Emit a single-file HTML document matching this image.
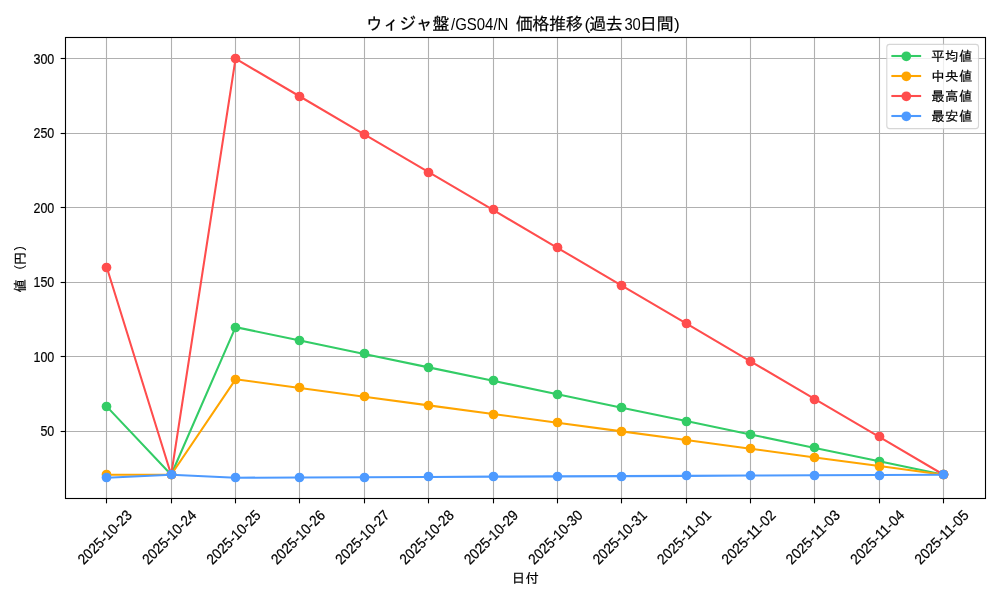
<!DOCTYPE html>
<html lang="ja">
<head>
<meta charset="utf-8">
<title>ウィジャ盤/GS04/N 価格推移(過去30日間)</title>
<style>
html,body{margin:0;padding:0;background:#fff;}
body{width:1000px;height:600px;overflow:hidden;}
svg{display:block;will-change:transform;}
svg text{font-family:"Liberation Sans","IPAGothic",sans-serif;fill:#000;stroke:#000;stroke-width:0.2px;}
.t10{font-size:13.4px;letter-spacing:0.49px;}
.t12{font-size:17.3px;letter-spacing:-0.63px;}
.lat{letter-spacing:0;stroke:none;}
.tl{font-size:14.6px;stroke:none;}
</style>
</head>
<body>
<svg width="1000" height="600" viewBox="0 0 1000 600">
<rect x="0" y="0" width="1000" height="600" fill="#ffffff"/>
<g stroke="#b0b0b0" stroke-width="1.11" fill="none">
<line x1="106.5" y1="37.5" x2="106.5" y2="498.5"/>
<line x1="171.5" y1="37.5" x2="171.5" y2="498.5"/>
<line x1="235.5" y1="37.5" x2="235.5" y2="498.5"/>
<line x1="299.5" y1="37.5" x2="299.5" y2="498.5"/>
<line x1="364.5" y1="37.5" x2="364.5" y2="498.5"/>
<line x1="428.5" y1="37.5" x2="428.5" y2="498.5"/>
<line x1="493.5" y1="37.5" x2="493.5" y2="498.5"/>
<line x1="557.5" y1="37.5" x2="557.5" y2="498.5"/>
<line x1="621.5" y1="37.5" x2="621.5" y2="498.5"/>
<line x1="686.5" y1="37.5" x2="686.5" y2="498.5"/>
<line x1="750.5" y1="37.5" x2="750.5" y2="498.5"/>
<line x1="814.5" y1="37.5" x2="814.5" y2="498.5"/>
<line x1="879.5" y1="37.5" x2="879.5" y2="498.5"/>
<line x1="943.5" y1="37.5" x2="943.5" y2="498.5"/>
<line x1="65.5" y1="431.5" x2="985.5" y2="431.5"/>
<line x1="65.5" y1="356.5" x2="985.5" y2="356.5"/>
<line x1="65.5" y1="282.5" x2="985.5" y2="282.5"/>
<line x1="65.5" y1="207.5" x2="985.5" y2="207.5"/>
<line x1="65.5" y1="133.5" x2="985.5" y2="133.5"/>
<line x1="65.5" y1="58.5" x2="985.5" y2="58.5"/>
</g>
<g stroke="#000" stroke-width="1.11" fill="none">
<line x1="106.5" y1="498.5" x2="106.5" y2="503.36"/>
<line x1="171.5" y1="498.5" x2="171.5" y2="503.36"/>
<line x1="235.5" y1="498.5" x2="235.5" y2="503.36"/>
<line x1="299.5" y1="498.5" x2="299.5" y2="503.36"/>
<line x1="364.5" y1="498.5" x2="364.5" y2="503.36"/>
<line x1="428.5" y1="498.5" x2="428.5" y2="503.36"/>
<line x1="493.5" y1="498.5" x2="493.5" y2="503.36"/>
<line x1="557.5" y1="498.5" x2="557.5" y2="503.36"/>
<line x1="621.5" y1="498.5" x2="621.5" y2="503.36"/>
<line x1="686.5" y1="498.5" x2="686.5" y2="503.36"/>
<line x1="750.5" y1="498.5" x2="750.5" y2="503.36"/>
<line x1="814.5" y1="498.5" x2="814.5" y2="503.36"/>
<line x1="879.5" y1="498.5" x2="879.5" y2="503.36"/>
<line x1="943.5" y1="498.5" x2="943.5" y2="503.36"/>
<line x1="60.64" y1="431.5" x2="65.5" y2="431.5"/>
<line x1="60.64" y1="356.5" x2="65.5" y2="356.5"/>
<line x1="60.64" y1="282.5" x2="65.5" y2="282.5"/>
<line x1="60.64" y1="207.5" x2="65.5" y2="207.5"/>
<line x1="60.64" y1="133.5" x2="65.5" y2="133.5"/>
<line x1="60.64" y1="58.5" x2="65.5" y2="58.5"/>
</g>
<clipPath id="ax"><rect x="65.5" y="37.5" width="920.0" height="461.0"/></clipPath>
<g clip-path="url(#ax)">
<polyline points="106.82,406.66 171.19,474.76 235.56,327.11 299.93,340.54 364.30,353.96 428.67,367.38 493.04,380.80 557.41,394.23 621.78,407.65 686.15,421.07 750.52,434.50 814.89,447.92 879.26,461.34 943.63,474.76" fill="none" stroke="#33cc66" stroke-width="2.08" stroke-linejoin="round" stroke-linecap="butt"/>
<g fill="#33cc66"><circle cx="106.5" cy="406.5" r="4.86"/><circle cx="171.5" cy="474.5" r="4.86"/><circle cx="235.5" cy="327.5" r="4.86"/><circle cx="299.5" cy="340.5" r="4.86"/><circle cx="364.5" cy="353.5" r="4.86"/><circle cx="428.5" cy="367.5" r="4.86"/><circle cx="493.5" cy="380.5" r="4.86"/><circle cx="557.5" cy="394.5" r="4.86"/><circle cx="621.5" cy="407.5" r="4.86"/><circle cx="686.5" cy="421.5" r="4.86"/><circle cx="750.5" cy="434.5" r="4.86"/><circle cx="814.5" cy="447.5" r="4.86"/><circle cx="879.5" cy="461.5" r="4.86"/><circle cx="943.5" cy="474.5" r="4.86"/></g>
<polyline points="106.82,474.76 171.19,474.76 235.56,379.31 299.93,387.99 364.30,396.67 428.67,405.35 493.04,414.02 557.41,422.70 621.78,431.38 686.15,440.05 750.52,448.73 814.89,457.41 879.26,466.09 943.63,474.76" fill="none" stroke="#ffa500" stroke-width="2.08" stroke-linejoin="round" stroke-linecap="butt"/>
<g fill="#ffa500"><circle cx="106.5" cy="474.5" r="4.86"/><circle cx="171.5" cy="474.5" r="4.86"/><circle cx="235.5" cy="379.5" r="4.86"/><circle cx="299.5" cy="387.5" r="4.86"/><circle cx="364.5" cy="396.5" r="4.86"/><circle cx="428.5" cy="405.5" r="4.86"/><circle cx="493.5" cy="414.5" r="4.86"/><circle cx="557.5" cy="422.5" r="4.86"/><circle cx="621.5" cy="431.5" r="4.86"/><circle cx="686.5" cy="440.5" r="4.86"/><circle cx="750.5" cy="448.5" r="4.86"/><circle cx="814.5" cy="457.5" r="4.86"/><circle cx="879.5" cy="466.5" r="4.86"/><circle cx="943.5" cy="474.5" r="4.86"/></g>
<polyline points="106.82,267.46 171.19,474.76 235.56,58.66 299.93,96.49 364.30,134.32 428.67,172.14 493.04,209.97 557.41,247.80 621.78,285.63 686.15,323.45 750.52,361.28 814.89,399.11 879.26,436.94 943.63,474.76" fill="none" stroke="#ff4d4d" stroke-width="2.08" stroke-linejoin="round" stroke-linecap="butt"/>
<g fill="#ff4d4d"><circle cx="106.5" cy="267.5" r="4.86"/><circle cx="171.5" cy="474.5" r="4.86"/><circle cx="235.5" cy="58.5" r="4.86"/><circle cx="299.5" cy="96.5" r="4.86"/><circle cx="364.5" cy="134.5" r="4.86"/><circle cx="428.5" cy="172.5" r="4.86"/><circle cx="493.5" cy="209.5" r="4.86"/><circle cx="557.5" cy="247.5" r="4.86"/><circle cx="621.5" cy="285.5" r="4.86"/><circle cx="686.5" cy="323.5" r="4.86"/><circle cx="750.5" cy="361.5" r="4.86"/><circle cx="814.5" cy="399.5" r="4.86"/><circle cx="879.5" cy="436.5" r="4.86"/><circle cx="943.5" cy="474.5" r="4.86"/></g>
<polyline points="106.82,477.75 171.19,474.76 235.56,477.75 299.93,477.47 364.30,477.20 428.67,476.93 493.04,476.66 557.41,476.39 621.78,476.12 686.15,475.85 750.52,475.58 814.89,475.31 879.26,475.03 943.63,474.76" fill="none" stroke="#4d9aff" stroke-width="2.08" stroke-linejoin="round" stroke-linecap="butt"/>
<g fill="#4d9aff"><circle cx="106.5" cy="477.5" r="4.86"/><circle cx="171.5" cy="474.5" r="4.86"/><circle cx="235.5" cy="477.5" r="4.86"/><circle cx="299.5" cy="477.5" r="4.86"/><circle cx="364.5" cy="477.5" r="4.86"/><circle cx="428.5" cy="476.5" r="4.86"/><circle cx="493.5" cy="476.5" r="4.86"/><circle cx="557.5" cy="476.5" r="4.86"/><circle cx="621.5" cy="476.5" r="4.86"/><circle cx="686.5" cy="475.5" r="4.86"/><circle cx="750.5" cy="475.5" r="4.86"/><circle cx="814.5" cy="475.5" r="4.86"/><circle cx="879.5" cy="475.5" r="4.86"/><circle cx="943.5" cy="474.5" r="4.86"/></g>
</g>
<rect x="65.5" y="37.5" width="920.0" height="461.0" fill="none" stroke="#000" stroke-width="1.11"/>
<g class="tl" text-anchor="end">
<text x="54.3" y="436.36" textLength="13.89" lengthAdjust="spacingAndGlyphs">50</text>
<text x="54.3" y="361.79" textLength="20.84" lengthAdjust="spacingAndGlyphs">100</text>
<text x="54.3" y="287.22" textLength="20.84" lengthAdjust="spacingAndGlyphs">150</text>
<text x="54.3" y="212.65" textLength="20.84" lengthAdjust="spacingAndGlyphs">200</text>
<text x="54.3" y="138.08" textLength="20.84" lengthAdjust="spacingAndGlyphs">250</text>
<text x="54.3" y="63.51" textLength="20.84" lengthAdjust="spacingAndGlyphs">300</text>
</g>
<g class="tl" text-anchor="middle">
<text transform="translate(104.92,537.3) rotate(-45)" x="0" y="4.8" textLength="69.45" lengthAdjust="spacingAndGlyphs">2025-10-23</text>
<text transform="translate(169.29,537.3) rotate(-45)" x="0" y="4.8" textLength="69.45" lengthAdjust="spacingAndGlyphs">2025-10-24</text>
<text transform="translate(233.66,537.3) rotate(-45)" x="0" y="4.8" textLength="69.45" lengthAdjust="spacingAndGlyphs">2025-10-25</text>
<text transform="translate(298.03,537.3) rotate(-45)" x="0" y="4.8" textLength="69.45" lengthAdjust="spacingAndGlyphs">2025-10-26</text>
<text transform="translate(362.40,537.3) rotate(-45)" x="0" y="4.8" textLength="69.45" lengthAdjust="spacingAndGlyphs">2025-10-27</text>
<text transform="translate(426.77,537.3) rotate(-45)" x="0" y="4.8" textLength="69.45" lengthAdjust="spacingAndGlyphs">2025-10-28</text>
<text transform="translate(491.14,537.3) rotate(-45)" x="0" y="4.8" textLength="69.45" lengthAdjust="spacingAndGlyphs">2025-10-29</text>
<text transform="translate(555.51,537.3) rotate(-45)" x="0" y="4.8" textLength="69.45" lengthAdjust="spacingAndGlyphs">2025-10-30</text>
<text transform="translate(619.88,537.3) rotate(-45)" x="0" y="4.8" textLength="69.45" lengthAdjust="spacingAndGlyphs">2025-10-31</text>
<text transform="translate(684.25,537.3) rotate(-45)" x="0" y="4.8" textLength="69.45" lengthAdjust="spacingAndGlyphs">2025-11-01</text>
<text transform="translate(748.62,537.3) rotate(-45)" x="0" y="4.8" textLength="69.45" lengthAdjust="spacingAndGlyphs">2025-11-02</text>
<text transform="translate(812.99,537.3) rotate(-45)" x="0" y="4.8" textLength="69.45" lengthAdjust="spacingAndGlyphs">2025-11-03</text>
<text transform="translate(877.36,537.3) rotate(-45)" x="0" y="4.8" textLength="69.45" lengthAdjust="spacingAndGlyphs">2025-11-04</text>
<text transform="translate(941.73,537.3) rotate(-45)" x="0" y="4.8" textLength="69.45" lengthAdjust="spacingAndGlyphs">2025-11-05</text>
</g>
<text class="t10" text-anchor="middle" x="525.6" y="583.2">日付</text>
<text class="t10" transform="translate(25.3,292.4) rotate(-90)"><tspan x="-0.2" y="0">値</tspan><tspan class="lat" x="17.0" y="0"> </tspan><tspan class="lat" x="22.9" y="-2.0">(</tspan><tspan x="27.1" y="0">円</tspan><tspan class="lat" x="41.8" y="-2.0">)</tspan></text>
<text class="t12"><tspan x="365.75" y="30.0">ウィジャ盤</tspan><tspan class="lat" x="451.05" y="29.8" textLength="57.35" lengthAdjust="spacingAndGlyphs">/GS04/N</tspan><tspan class="lat" x="508.90" y="29.8"> </tspan><tspan x="515.73" y="30.0">価格推移</tspan><tspan class="lat" x="587.38" y="29.8" text-anchor="middle">(</tspan><tspan x="588.95" y="30.0">過去</tspan><tspan class="lat" x="624.39" y="29.8" textLength="16.47" lengthAdjust="spacingAndGlyphs">30</tspan><tspan x="639.86" y="30.0">日間</tspan><tspan class="lat" x="676.96" y="29.8" text-anchor="middle">)</tspan></text>
<rect x="886.8" y="44.4" width="91.7" height="84.2" rx="2.8" ry="2.8" fill="#ffffff" fill-opacity="0.8" stroke="#cccccc" stroke-opacity="0.8" stroke-width="1.11"/>
<line x1="892.4" y1="56.0" x2="920.1" y2="56.0" stroke="#33cc66" stroke-width="2.08" stroke-linecap="square"/>
<circle cx="906.3" cy="56.3" r="4.86" fill="#33cc66"/>
<text class="t10" x="931.2" y="60.9">平均値</text>
<line x1="892.4" y1="76.0" x2="920.1" y2="76.0" stroke="#ffa500" stroke-width="2.08" stroke-linecap="square"/>
<circle cx="906.3" cy="76.3" r="4.86" fill="#ffa500"/>
<text class="t10" x="931.2" y="80.9">中央値</text>
<line x1="892.4" y1="96.0" x2="920.1" y2="96.0" stroke="#ff4d4d" stroke-width="2.08" stroke-linecap="square"/>
<circle cx="906.3" cy="96.3" r="4.86" fill="#ff4d4d"/>
<text class="t10" x="931.2" y="100.9">最高値</text>
<line x1="892.4" y1="116.0" x2="920.1" y2="116.0" stroke="#4d9aff" stroke-width="2.08" stroke-linecap="square"/>
<circle cx="906.3" cy="116.3" r="4.86" fill="#4d9aff"/>
<text class="t10" x="931.2" y="120.9">最安値</text>
</svg>
</body>
</html>
